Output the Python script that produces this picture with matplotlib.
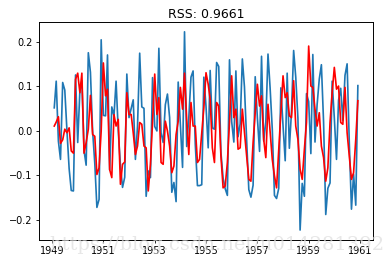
import numpy as np
import pandas as pd
import matplotlib
matplotlib.use("Agg")
import matplotlib.pyplot as plt
import matplotlib.dates as mdates

# log-differenced monthly passengers (1949-02 .. 1960-12)
ts_log_diff = [
    0.052, 0.112, -0.023, -0.064, 0.109, 0.092, 0.000, -0.085, -0.134, -0.135, 0.126,
    -0.026, 0.091, 0.113, -0.044, -0.077, 0.176, 0.132, 0.000, -0.073, -0.172, -0.154, 0.205,
    0.035, 0.034, 0.171, -0.088, 0.054, 0.034, 0.112, 0.000, -0.078, -0.127, -0.104, 0.128,
    0.030, 0.051, 0.070, -0.064, 0.011, 0.175, 0.054, 0.051, -0.147, -0.090, -0.105, 0.120,
    0.010, 0.000, 0.186, -0.004, -0.026, 0.059, 0.083, 0.030, -0.138, -0.116, -0.159, 0.110,
    0.015, -0.082, 0.223, -0.035, 0.030, 0.121, 0.135, -0.030, -0.123, -0.123, -0.121, 0.121,
    0.055, -0.038, 0.136, 0.007, 0.004, 0.154, 0.145, -0.048, -0.106, -0.130, -0.145, 0.160,
    0.021, -0.025, 0.135, -0.013, 0.016, 0.162, 0.099, -0.020, -0.132, -0.149, -0.122, 0.122,
    0.029, -0.046, 0.168, -0.023, 0.020, 0.173, 0.097, 0.004, -0.145, -0.152, -0.129, 0.097,
    0.012, -0.067, 0.130, -0.039, 0.042, 0.181, 0.121, 0.028, -0.223, -0.118, -0.147, 0.084,
    0.066, -0.051, 0.172, -0.025, 0.059, 0.117, 0.149, 0.020, -0.188, -0.129, -0.117, 0.112,
    0.029, -0.064, 0.069, 0.096, 0.024, 0.125, 0.151, -0.026, -0.176, -0.097, -0.167, 0.102,
]

# ARIMA fitted values
fitted = [
    0.011, 0.020, 0.032, -0.028, -0.020, 0.004, -0.004, 0.007, -0.045, -0.050, 0.116,
    0.130, 0.086, 0.130, -0.050, -0.026, 0.004, 0.080, -0.008, -0.012, -0.098, -0.083, 0.000,
    0.153, 0.079, 0.094, -0.087, -0.105, 0.037, 0.011, 0.026, -0.120, -0.075, -0.070, 0.086,
    0.037, 0.037, -0.004, -0.053, -0.034, 0.019, 0.015, -0.034, -0.038, -0.135, -0.075, 0.020,
    0.128, 0.037, 0.075, -0.071, -0.075, 0.022, 0.000, -0.034, -0.094, -0.079, -0.008, 0.022,
    0.098, 0.049, 0.130, 0.026, -0.053, 0.064, 0.011, 0.011, -0.071, -0.064, -0.004, 0.052,
    0.131, 0.105, 0.071, -0.038, -0.071, 0.064, 0.056, -0.056, -0.128, -0.124, -0.071, 0.019,
    0.124, 0.030, 0.049, -0.041, -0.038, 0.049, -0.004, -0.056, -0.109, -0.113, -0.026, 0.041,
    0.105, 0.056, 0.079, -0.019, -0.060, 0.060, 0.000, -0.064, -0.101, -0.128, -0.041, 0.041,
    0.124, 0.075, 0.086, 0.034, 0.030, 0.113, 0.011, -0.019, -0.086, -0.109, -0.041, 0.019,
    0.191, 0.101, 0.098, 0.049, 0.011, 0.041, -0.034, -0.060, -0.113, -0.083, 0.019, 0.086,
    0.143, 0.094, 0.101, 0.019, 0.015, 0.098, -0.004, -0.056, -0.109, -0.094, -0.019, 0.068,
]

tick_years = [1949, 1951, 1953, 1955, 1957, 1959, 1961]
rss = 0.9661
dates = pd.date_range("1949-02-01", periods=len(ts_log_diff), freq="MS")

fig = plt.figure(figsize=(3.83, 2.64), dpi=100)
ax = fig.add_axes([0.102, 0.091, 0.872, 0.826])

ax.plot(dates, ts_log_diff, color="#1f77b4", lw=1.2)
ax.plot(dates, fitted, color="red", lw=1.2)

ax.set_xticks(pd.to_datetime([f"{y}-01-01" for y in tick_years]))
ax.xaxis.set_major_formatter(mdates.DateFormatter("%Y"))
ax.set_yticks([-0.2, -0.1, 0.0, 0.1, 0.2])
ax.tick_params(labelsize=7, length=2.5, width=0.6, pad=2)
for s in ax.spines.values():
    s.set_linewidth(0.7)

ax.set_title("RSS: %.4f" % rss, fontsize=9, pad=3)

# blog watermark over the bottom edge
fig.text(0.128, 0.052, "https://blog.csdn.net/u014281392", fontsize=14,
         family="DejaVu Serif", color="#dddddd", alpha=0.7, va="baseline")

fig.savefig("out.png", dpi=100)
